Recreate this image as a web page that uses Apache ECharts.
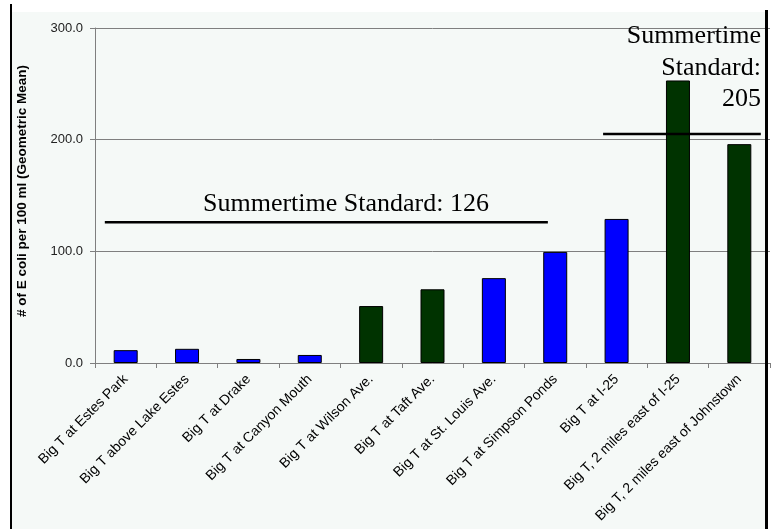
<!DOCTYPE html>
<html><head><meta charset="utf-8">
<script src="https://cdn.jsdelivr.net/npm/echarts@6/dist/echarts.min.js"></script>
<style>html,body{margin:0;padding:0;background:#fff}#c{width:772px;height:529px}</style>
</head><body><div id="c"></div><script>
// Sampling sites along the Big Thompson River, upstream to downstream
const sites = [
  'Big T at Estes Park', 'Big T above Lake Estes', 'Big T at Drake',
  'Big T at Canyon Mouth', 'Big T at Wilson Ave.', 'Big T at Taft Ave.',
  'Big T at St. Louis Ave.', 'Big T at Simpson Ponds', 'Big T at I-25',
  'Big T, 2 miles east of I-25', 'Big T, 2 miles east of Johnstown'
];
// E. coli per 100 ml, geometric mean
const geoMean = [11.5, 12.7, 3.6, 7.2, 51, 66, 76, 99.5, 129, 253, 196];
// segment class of each site (A = upper segment standard, B = lower segment standard)
const siteClass = ['A', 'A', 'A', 'A', 'B', 'B', 'A', 'A', 'A', 'B', 'B'];
const yTicks = [0, 100, 200, 300];
const standardUpper = 126;
const standardLower = 205;

const classFill = { A: '#0000ff', B: '#003300' };
const bg = '#f5f9f7';

const chart = echarts.init(document.getElementById('c'), null, { renderer: 'canvas' });

chart.setOption({
  backgroundColor: '#ffffff',
  animation: false,
  graphic: [
    { type: 'rect', z: -10, silent: true, shape: { x: 12, y: 12, width: 754, height: 520 }, style: { fill: bg } },
    { type: 'rect', z: 100, silent: true, shape: { x: 10, y: 4, width: 2, height: 530 }, style: { fill: '#000' } },
    { type: 'rect', z: 100, silent: true, shape: { x: 765, y: 10, width: 3, height: 525 }, style: { fill: '#000' } },
    {
      type: 'text', z: 50, silent: true,
      style: {
        x: 346, y: 204, text: 'Summertime Standard: ' + standardUpper,
        font: '26px "Liberation Serif", "Times New Roman", serif',
        fill: '#000', align: 'center', verticalAlign: 'middle'
      }
    },
    {
      type: 'text', z: 50, silent: true,
      style: {
        x: 761, y: 68, text: 'Summertime\nStandard:\n' + standardLower,
        font: '26px "Liberation Serif", "Times New Roman", serif', lineHeight: 31.5,
        fill: '#000', align: 'right', verticalAlign: 'middle'
      }
    },
    {
      type: 'text', z: 50, silent: true, rotation: Math.PI / 2,
      x: 22, y: 191,
      style: {
        x: 0, y: 0, text: '# of E coli per 100 ml (Geometric Mean)',
        font: 'bold 13.5px "Liberation Sans", Arial, sans-serif',
        fill: '#000', align: 'center', verticalAlign: 'middle'
      }
    }
  ],
  grid: { left: 95, right: 2, top: 28, bottom: 166, containLabel: false },
  xAxis: [
    {
      type: 'category', data: sites,
      axisLine: { lineStyle: { color: '#7f7f7f', width: 1 } },
      axisTick: { show: true, length: 5, lineStyle: { color: '#7f7f7f' } },
      axisLabel: {
        rotate: 45, interval: 0, margin: 14,
        fontFamily: '"Liberation Sans", Arial, sans-serif', fontSize: 14, color: '#000'
      }
    },
    { type: 'value', min: 0, max: 11, show: false }
  ],
  yAxis: {
    type: 'value', min: 0, max: 300, interval: 100,
    axisLine: { show: true, lineStyle: { color: '#7f7f7f', width: 1 } },
    axisTick: { show: true, length: 5, lineStyle: { color: '#7f7f7f' } },
    splitLine: { show: true, lineStyle: { color: '#7f7f7f', width: 1 } },
    axisLabel: {
      margin: 12, color: '#222',
      fontFamily: '"Liberation Sans", Arial, sans-serif', fontSize: 13,
      formatter: v => yTicks.includes(v) ? v.toFixed(1) : ''
    }
  },
  series: [
    {
      type: 'bar', barWidth: 24, z: 5,
      data: geoMean.map((v, i) => ({
        value: v,
        itemStyle: { color: classFill[siteClass[i]], borderColor: '#000', borderWidth: 1 }
      }))
    },
    {
      type: 'line', xAxisIndex: 1, symbol: 'none', z: 6, silent: true,
      lineStyle: { color: '#000', width: 2.5 },
      data: [[0.16, standardUpper], [7.38, standardUpper]]
    },
    {
      type: 'line', xAxisIndex: 1, symbol: 'none', z: 6, silent: true,
      lineStyle: { color: '#000', width: 2.5 },
      data: [[8.28, standardLower], [10.85, standardLower]]
    }
  ]
});
</script></body></html>
